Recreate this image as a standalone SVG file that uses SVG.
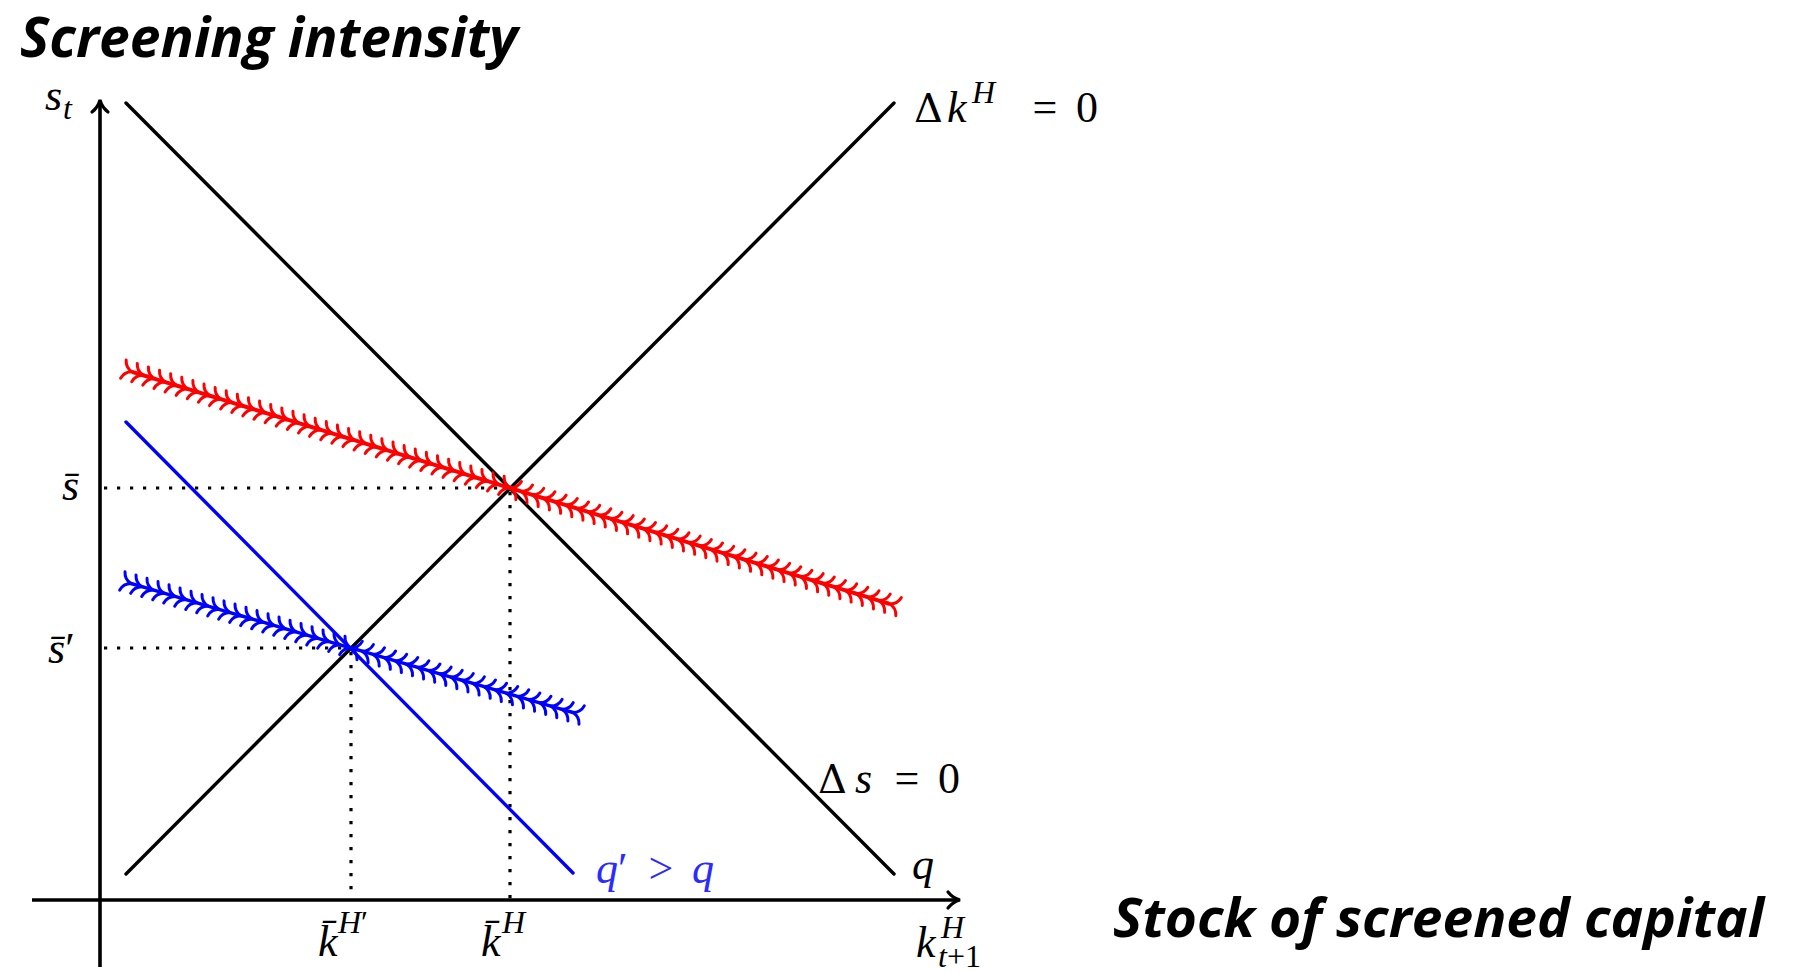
<svg xmlns="http://www.w3.org/2000/svg" width="1798" height="973" viewBox="0 0 1798 973">
<style>
.ax{stroke:#000;stroke-width:3.6;fill:none}
.blk{stroke:#000;stroke-width:3.4;fill:none;stroke-linecap:round}
.dot{stroke:#000;stroke-width:3.2;stroke-dasharray:3.2 9.8;fill:none}
.red{stroke:#f00;stroke-width:4;fill:none}
.blue{stroke:#00f;stroke-width:3.4;fill:none;stroke-linecap:round}
.title{font-family:"Open Sans","Liberation Sans",sans-serif;font-weight:700;font-style:italic;fill:#000}
.m{font-family:"Liberation Serif",serif;font-size:44px;fill:#000}
.mi{font-family:"Liberation Serif",serif;font-size:44px;font-style:italic;fill:#000}
.sup{font-family:"Liberation Serif",serif;font-size:32px;font-style:italic;fill:#000}
.dl{font-family:"DejaVu Serif",serif;font-size:40px;fill:#000}
</style>
<defs>
<marker id="arr" markerUnits="userSpaceOnUse" markerWidth="24" markerHeight="24" viewBox="-12 -12 24 24" refX="0" refY="0" orient="auto" overflow="visible">
<path d="M-11,-8 C-7,-3 -3,-1 1,0 C-3,1 -7,3 -11,8" fill="none" stroke="#000" stroke-width="3.2" stroke-linecap="round"/>
</marker>
<marker id="chR" markerUnits="userSpaceOnUse" markerWidth="24" markerHeight="24" viewBox="-12 -12 24 24" refX="0" refY="0" orient="auto" overflow="visible">
<path d="M-9,-9.5 C-8,-5 -5,-1.5 0,0 C-5,1.5 -8,5 -9,9.5" fill="none" stroke="#f00" stroke-width="3" stroke-linecap="round"/>
</marker>
<marker id="chB" markerUnits="userSpaceOnUse" markerWidth="24" markerHeight="24" viewBox="-12 -12 24 24" refX="0" refY="0" orient="auto" overflow="visible">
<path d="M-9,-9.5 C-8,-5 -5,-1.5 0,0 C-5,1.5 -8,5 -9,9.5" fill="none" stroke="#00f" stroke-width="3" stroke-linecap="round"/>
</marker>
</defs>
<rect width="1798" height="973" fill="#fff"/>

<g id="titles">
<text class="title" x="20" y="57" font-size="55" textLength="498" lengthAdjust="spacingAndGlyphs">Screening intensity</text>
<text class="title" x="1113" y="937" font-size="54" textLength="651" lengthAdjust="spacingAndGlyphs">Stock of screened capital</text>
</g>

<g id="connectors">
<g id="dotted">
<line class="dot" x1="104" y1="488" x2="510" y2="488"/>
<line class="dot" x1="104" y1="648" x2="351" y2="648"/>
<line class="dot" x1="510" y1="492" x2="510" y2="900"/>
<line class="dot" x1="351" y1="652" x2="351" y2="900"/>
</g>
<g id="axes">
<line class="ax" x1="100" y1="967" x2="100" y2="101" marker-end="url(#arr)"/>
<line class="ax" x1="32" y1="900" x2="959" y2="900" marker-end="url(#arr)"/>
</g>
<g id="curves">
<line id="ds0" class="blk" x1="126" y1="103" x2="894" y2="874"/>
<line id="dk0" class="blk" x1="126" y1="874" x2="894" y2="103"/>
<line id="ds0q2" class="blue" x1="126" y1="422" x2="573" y2="873"/>
</g>
<g id="saddle-red">
<path class="red" marker-start="url(#chR)" marker-mid="url(#chR)" marker-end="url(#chR)" d="M132,371.8 l11.118,3.4176 l11.118,3.4176 l11.118,3.4176 l11.118,3.4176 l11.118,3.4176 l11.118,3.4176 l11.118,3.4176 l11.118,3.4176 l11.118,3.4176 l11.118,3.4176 l11.118,3.4176 l11.118,3.4176 l11.118,3.4176 l11.118,3.4176 l11.118,3.4176 l11.118,3.4176 l11.118,3.4176 l11.118,3.4176 l11.118,3.4176 l11.118,3.4176 l11.118,3.4176 l11.118,3.4176 l11.118,3.4176 l11.118,3.4176 l11.118,3.4176 l11.118,3.4176 l11.118,3.4176 l11.118,3.4176 l11.118,3.4176 l11.118,3.4176 l11.118,3.4176 l11.118,3.4176 l11.118,3.4176 l11.118,3.4176"/>
<path class="red" marker-start="url(#chR)" marker-mid="url(#chR)" marker-end="url(#chR)" d="M890,604 l-11.176,-3.4118 l-11.176,-3.4118 l-11.176,-3.4118 l-11.176,-3.4118 l-11.176,-3.4118 l-11.176,-3.4118 l-11.176,-3.4118 l-11.176,-3.4118 l-11.176,-3.4118 l-11.176,-3.4118 l-11.176,-3.4118 l-11.176,-3.4118 l-11.176,-3.4118 l-11.176,-3.4118 l-11.176,-3.4118 l-11.176,-3.4118 l-11.176,-3.4118 l-11.176,-3.4118 l-11.176,-3.4118 l-11.176,-3.4118 l-11.176,-3.4118 l-11.176,-3.4118 l-11.176,-3.4118 l-11.176,-3.4118 l-11.176,-3.4118 l-11.176,-3.4118 l-11.176,-3.4118 l-11.176,-3.4118 l-11.176,-3.4118 l-11.176,-3.4118 l-11.176,-3.4118 l-11.176,-3.4118 l-11.176,-3.4118 l-11.176,-3.4118"/>
</g>
<g id="saddle-blue">
<path class="blue" marker-start="url(#chB)" marker-mid="url(#chB)" marker-end="url(#chB)" d="M131,583.5 l11,3.225 l11,3.225 l11,3.225 l11,3.225 l11,3.225 l11,3.225 l11,3.225 l11,3.225 l11,3.225 l11,3.225 l11,3.225 l11,3.225 l11,3.225 l11,3.225 l11,3.225 l11,3.225 l11,3.225 l11,3.225 l11,3.225 l11,3.225"/>
<path class="blue" marker-start="url(#chB)" marker-mid="url(#chB)" marker-end="url(#chB)" d="M573,712.5 l-11.1,-3.225 l-11.1,-3.225 l-11.1,-3.225 l-11.1,-3.225 l-11.1,-3.225 l-11.1,-3.225 l-11.1,-3.225 l-11.1,-3.225 l-11.1,-3.225 l-11.1,-3.225 l-11.1,-3.225 l-11.1,-3.225 l-11.1,-3.225 l-11.1,-3.225 l-11.1,-3.225 l-11.1,-3.225 l-11.1,-3.225 l-11.1,-3.225 l-11.1,-3.225 l-11.1,-3.225"/>
</g>
</g>

<g id="label-st"><text class="mi" x="45" y="110">s</text><text class="sup" x="63" y="119">t</text></g>
<g id="label-dk"><text class="dl" x="914" y="122">Δ</text><text class="mi" x="947" y="122">k</text><text class="sup" x="972" y="103">H</text><text class="m" x="1045" y="122" text-anchor="middle">=</text><text class="m" x="1076" y="122">0</text></g>
<g id="label-ds"><text class="dl" x="818" y="793">Δ</text><text class="mi" x="855" y="793">s</text><text class="m" x="907" y="793" text-anchor="middle">=</text><text class="m" x="938" y="793">0</text></g>
<g id="label-q"><text class="mi" x="912" y="879">q</text></g>
<g id="label-q2"><text class="mi" x="596" y="883" style="fill:#2b2bff">q<tspan font-style="normal">′</tspan></text><text class="m" x="661" y="883" text-anchor="middle" style="fill:#2b2bff">&gt;</text><text class="mi" x="692" y="883" style="fill:#2b2bff">q</text></g>
<g id="label-sbar"><text class="mi" x="62" y="500">s̄</text></g>
<g id="label-sbar2"><text class="mi" x="48" y="663">s̄<tspan font-style="normal">′</tspan></text></g>
<g id="label-kbar2"><text class="mi" x="318" y="956">k̄</text><text class="sup" x="338" y="933">H<tspan font-style="normal">′</tspan></text></g>
<g id="label-kbar"><text class="mi" x="481" y="956">k̄</text><text class="sup" x="502" y="933">H</text></g>
<g id="label-kx"><text class="mi" x="916" y="957">k</text><text class="sup" x="941" y="938">H</text><text class="sup" x="938" y="967">t<tspan font-style="normal">+1</tspan></text></g>
</svg>
